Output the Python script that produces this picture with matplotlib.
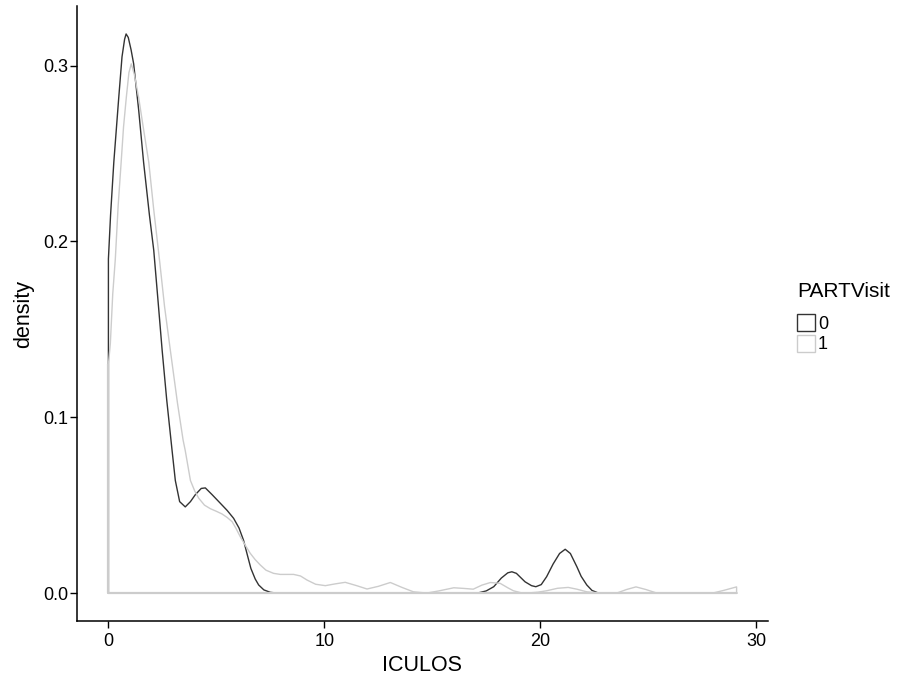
import matplotlib
matplotlib.use("Agg")
import matplotlib.pyplot as plt
from matplotlib.patches import Patch

plt.rcParams['font.family'] = ['Liberation Sans', 'DejaVu Sans']

# Group PARTVisit = 0 (density curve)
x0 = [0, 0.1, 0.25, 0.48, 0.63, 0.75, 0.82, 0.92, 1.05, 1.17, 1.4, 1.63, 1.9, 2.1, 2.3,
      2.49, 2.7, 2.95, 3.1, 3.3, 3.56, 3.8, 4.03, 4.3, 4.49, 4.8, 5.19, 5.5, 5.8, 6.05,
      6.26, 6.45, 6.6, 6.8, 6.96, 7.2, 7.5, 7.8, 17.1, 17.5, 17.85, 18.2, 18.5, 18.69,
      18.9, 19.3, 19.6, 19.8, 20.05, 20.3, 20.6, 20.9, 21.16, 21.4, 21.7, 21.9, 22.16,
      22.4, 22.7, 29.1]
d0 = [0.19, 0.215, 0.245, 0.282, 0.305, 0.315, 0.318, 0.316, 0.309, 0.301, 0.275, 0.245,
      0.215, 0.195, 0.166, 0.138, 0.11, 0.081, 0.064, 0.052, 0.049, 0.052, 0.056, 0.0595,
      0.0598, 0.056, 0.051, 0.047, 0.0425, 0.037, 0.030, 0.021, 0.014, 0.008, 0.0046,
      0.0018, 0.0004, 0.0, 0.0, 0.0012, 0.0036, 0.0085, 0.0115, 0.0121, 0.0112, 0.0064,
      0.0042, 0.0036, 0.0048, 0.0093, 0.0165, 0.0225, 0.0249, 0.0225, 0.015, 0.0095,
      0.0046, 0.0015, 0.0, 0.0]

# Group PARTVisit = 1
x1 = [0, 0.09, 0.2, 0.32, 0.45, 0.59, 0.7, 0.83, 0.95, 1.06, 1.2, 1.4, 1.6, 1.87, 2.1,
      2.38, 2.6, 2.87, 3.2, 3.46, 3.56, 3.8, 4.0, 4.18, 4.45, 4.72, 5.0, 5.26, 5.5, 5.73,
      5.9, 6.11, 6.35, 6.57, 6.8, 7.04, 7.3, 7.65, 7.96, 8.58, 8.9, 9.2, 9.6, 10.05, 10.5,
      10.97, 11.5, 11.98, 12.5, 13.06, 13.6, 14.13, 14.75, 15.3, 16.0, 16.5, 16.9, 17.3,
      17.7, 18.15, 18.5, 18.76, 19.1, 19.4, 19.9, 20.3, 20.8, 21.3, 21.7, 22.16, 22.8,
      23.55, 24.0, 24.44, 24.9, 25.4, 28.0, 28.5, 29.1]
d1 = [0.13, 0.142, 0.17, 0.19, 0.22, 0.245, 0.265, 0.282, 0.296, 0.301, 0.295, 0.282,
      0.266, 0.245, 0.218, 0.188, 0.163, 0.138, 0.108, 0.087, 0.081, 0.064, 0.058, 0.054,
      0.050, 0.048, 0.0465, 0.045, 0.043, 0.0406, 0.037, 0.032, 0.027, 0.0226, 0.019,
      0.0159, 0.013, 0.0112, 0.0106, 0.0106, 0.0097, 0.0074, 0.005, 0.0042, 0.0052,
      0.0061, 0.0042, 0.0023, 0.0038, 0.006, 0.0032, 0.0007, 0.0, 0.0012, 0.003, 0.0026,
      0.0022, 0.0045, 0.006, 0.0055, 0.003, 0.0013, 0.0002, 0.0, 0.0005, 0.0013, 0.0027,
      0.0032, 0.0022, 0.0007, 0.0, 0.0, 0.002, 0.0035, 0.002, 0.0, 0.0, 0.0015, 0.0035]

groups = ['0', '1']
legend_title = 'PARTVisit'
colors = ['#333333', '#CCCCCC']
x_ticks = [0, 10, 20, 30]
y_ticks = [0.0, 0.1, 0.2, 0.3]
y_tick_labels = ['0.0', '0.1', '0.2', '0.3']

fig = plt.figure(figsize=(9.01, 6.76), dpi=100)
ax = fig.add_axes([77/901, 1-621/676, (768-77)/901, (621-6)/676])

for xs, ds, c in [(x0, d0, colors[0]), (x1, d1, colors[1])]:
    px = [xs[0]] + list(xs) + [xs[-1]]
    py = [0.0] + list(ds) + [0.0]
    ax.fill(px, py, facecolor='none', edgecolor=c, linewidth=1.0, joinstyle='round')

# light group's baseline and left edge drawn on top of the dark one, as in the reference
ax.plot([x1[-1], x1[0], x1[0]], [0.0, 0.0, d1[0]], color=colors[1], linewidth=1.6,
        solid_capstyle='butt')

xmin, xmax = 0, 29.1
ymax = 0.318
ax.set_xlim(xmin - 0.05*(xmax-xmin), xmax + 0.05*(xmax-xmin))
ax.set_ylim(-0.05*ymax, ymax*1.05)

ax.set_xticks(x_ticks)
ax.set_yticks(y_ticks)
ax.set_yticklabels(y_tick_labels)
for s in ['top', 'right']:
    ax.spines[s].set_visible(False)
for s in ['left', 'bottom']:
    ax.spines[s].set_linewidth(1.1)
    ax.spines[s].set_color('black')
ax.tick_params(axis='both', length=5, width=1.0, color='black', labelsize=13,
               labelcolor='black')
ax.tick_params(axis='x', pad=3.5)
ax.tick_params(axis='y', pad=1.5)
ax.set_xlabel('ICULOS', fontsize=15.5, labelpad=4)
ax.set_ylabel('density', fontsize=15.5, labelpad=6)

fig.text(797/901, 1-297/676, legend_title, fontsize=15, ha='left', va='baseline')
handles = [Patch(facecolor='white', edgecolor=c, linewidth=1.0) for c in colors]
leg = fig.legend(handles, groups, loc='upper left',
                 bbox_to_anchor=(797/901, 1-314/676), frameon=False, fontsize=13,
                 handlelength=1.0, handleheight=1.1,
                 handletextpad=0.15, labelspacing=0.1, borderaxespad=0, borderpad=0)

fig.savefig('out.png', dpi=100)
